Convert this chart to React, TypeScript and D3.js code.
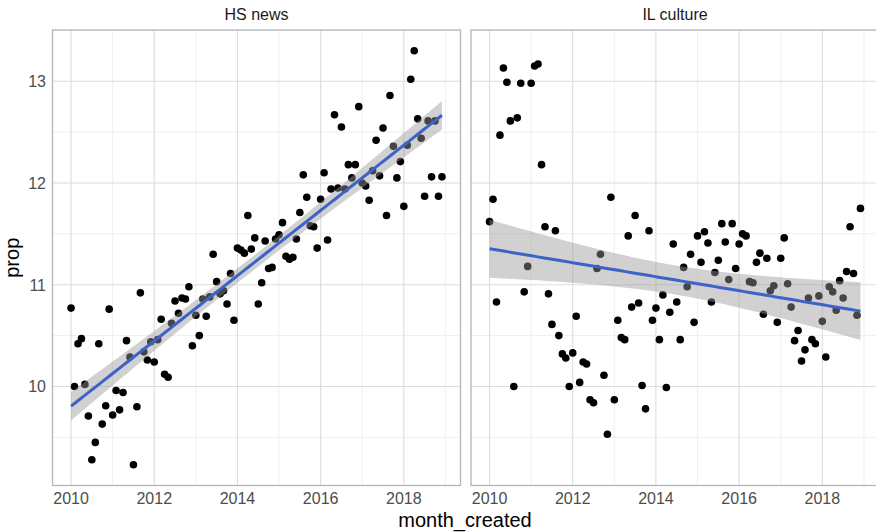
import * as d3 from 'd3'

// monthly series, Jan 2010 .. Dec 2018
const START_YEAR = 2010

const HS_NEWS = [
  10.77, 10.0, 10.42, 10.47, 10.02, 9.71, 9.28, 9.45, 10.42, 9.63, 9.81, 10.76,
  9.72, 9.96, 9.77, 9.94, 10.45, 10.29, 9.23, 9.8, 10.92, 10.34, 10.26, 10.44,
  10.24, 10.46, 10.66, 10.12, 10.09, 10.62, 10.84, 10.72, 10.87, 10.86, 10.98, 10.4,
  10.7, 10.5, 10.86, 10.69, 10.88, 11.3, 11.03, 10.91, 10.94, 10.81, 11.11, 10.65,
  11.36, 11.34, 11.31, 11.68, 11.35, 11.46, 10.81, 11.02, 11.43, 11.16, 11.17, 11.45,
  11.49, 11.61, 11.28, 11.25, 11.27, 11.45, 11.71, 12.08, 11.86, 11.58, 11.57, 11.36,
  11.84, 12.1, 11.44, 11.94, 12.67, 11.95, 12.55, 11.94, 12.18, 12.05, 12.18, 12.75,
  12.0, 11.97, 11.83, 12.12, 12.42, 12.07, 12.54, 11.68, 12.86, 12.36, 12.05, 12.21,
  11.77, 12.37, 13.02, 13.3, 12.63, 12.44, 11.87, 12.61, 12.06, 12.61, 11.87, 12.06,
]

const IL_CULTURE = [
  11.62, 11.84, 10.83, 12.47, 13.13, 12.99, 12.61, 10.0, 12.64, 12.98, 10.93, 11.18,
  12.98, 13.15, 13.17, 12.18, 11.57, 10.91, 10.61, 11.53, 10.5, 10.32, 10.28, 10.0,
  10.33, 10.69, 10.04, 10.24, 10.22, 9.87, 9.84, 11.16, 11.3, 10.11, 9.53, 11.86,
  9.87, 10.65, 10.48, 10.46, 11.48, 10.78, 11.68, 10.82, 10.01, 9.78, 11.53, 10.65,
  10.77, 10.46, 10.9, 9.99, 10.73, 11.4, 10.83, 10.46, 11.17, 10.98, 11.3, 10.63,
  11.48, 11.22, 11.52, 11.41, 10.83, 11.12, 11.24, 11.6, 11.42, 11.05, 11.6, 11.16,
  11.4, 11.5, 11.48, 11.03, 11.02, 11.22, 11.31, 10.71, 11.26, 10.94, 10.99, 10.63,
  11.26, 11.46, 11.01, 10.78, 10.45, 10.55, 10.25, 10.36, 10.87, 10.46, 10.42, 10.89,
  10.64, 10.29, 10.98, 10.93, 10.75, 11.04, 10.87, 11.13, 11.57, 11.11, 10.7, 11.75,
]

const PANEL_TITLES = ['HS news', 'IL culture']
const X_TICKS = [2010, 2012, 2014, 2016, 2018]
const X_MINOR = [2011, 2013, 2015, 2017, 2019]
const Y_TICKS = [10, 11, 12, 13]
const Y_MINOR = [9.5, 10.5, 11.5, 12.5, 13.5]

const W = 876
const H = 532
const PANEL_TOP = 30
const PANEL_BOTTOM = 485.5
const PANEL_LEFTS = [52.5, 471]
const PANEL_W = 408
const FONT = '"Liberation Sans", Arial, Helvetica, sans-serif'

const T_975 = 1.9826 // t quantile, df = 106

function expand(lo: number, hi: number) {
  const pad = (hi - lo) * 0.05
  return [lo - pad, hi + pad]
}

function fitLm(xs: number[], ys: number[]) {
  const n = xs.length
  const mx = d3.mean(xs)!
  const my = d3.mean(ys)!
  let sxx = 0
  let sxy = 0
  xs.forEach((x, i) => {
    sxx += (x - mx) ** 2
    sxy += (x - mx) * (ys[i] - my)
  })
  const b = sxy / sxx
  const a = my - b * mx
  const rss = d3.sum(xs, (x, i) => (ys[i] - a - b * x) ** 2)
  const s = Math.sqrt(rss / (n - 2))
  const [x0, x1] = d3.extent(xs) as [number, number]
  return d3.range(80).map(k => {
    const x = x0 + ((x1 - x0) * k) / 79
    const y = a + b * x
    const se = s * Math.sqrt(1 / n + (x - mx) ** 2 / sxx)
    return { x, y, lo: y - T_975 * se, hi: y + T_975 * se }
  })
}

function Panel({ index, values, yScale }: { index: number; values: number[]; yScale: d3.ScaleLinear<number, number> }) {
  const left = PANEL_LEFTS[index]
  const xs = values.map((_, i) => START_YEAR + i / 12)
  const xScale = d3.scaleLinear()
    .domain(expand(d3.min(xs)!, d3.max(xs)!))
    .range([left, left + PANEL_W])

  const fit = fitLm(xs, values)
  const area = d3.area<{ x: number; lo: number; hi: number }>()
    .x(d => xScale(d.x)).y0(d => yScale(d.lo)).y1(d => yScale(d.hi))
  const line = d3.line<{ x: number; y: number }>()
    .x(d => xScale(d.x)).y(d => yScale(d.y))

  const clipId = `clip-${index}`

  return (
    <g>
      <clipPath id={clipId}>
        <rect x={left} y={PANEL_TOP} width={PANEL_W} height={PANEL_BOTTOM - PANEL_TOP} />
      </clipPath>
      <g clipPath={`url(#${clipId})`}>
        {X_MINOR.map(t => (
          <line key={'xm' + t} x1={xScale(t)} x2={xScale(t)} y1={PANEL_TOP} y2={PANEL_BOTTOM}
            stroke="#ebebeb" strokeWidth={0.8} />
        ))}
        {Y_MINOR.map(t => (
          <line key={'ym' + t} x1={left} x2={left + PANEL_W} y1={yScale(t)} y2={yScale(t)}
            stroke="#ebebeb" strokeWidth={0.8} />
        ))}
        {X_TICKS.map(t => (
          <line key={'x' + t} x1={xScale(t)} x2={xScale(t)} y1={PANEL_TOP} y2={PANEL_BOTTOM}
            stroke="#dcdcdc" strokeWidth={1.1} />
        ))}
        {Y_TICKS.map(t => (
          <line key={'y' + t} x1={left} x2={left + PANEL_W} y1={yScale(t)} y2={yScale(t)}
            stroke="#dcdcdc" strokeWidth={1.1} />
        ))}
        {values.map((v, i) => (
          <circle key={i} cx={xScale(xs[i])} cy={yScale(v)} r={3.8} fill="#000" />
        ))}
        <path d={area(fit) ?? ''} fill="#999999" fillOpacity={0.45} />
        <path d={line(fit) ?? ''} fill="none" stroke="#3d62c8" strokeWidth={3} />
      </g>
      <rect x={left} y={PANEL_TOP} width={PANEL_W} height={PANEL_BOTTOM - PANEL_TOP}
        fill="none" stroke="#b4b5ba" strokeWidth={1.3} />

      <text x={left + PANEL_W / 2} y={20} textAnchor="middle" fontSize={16} fill="#1a1a1a">
        {PANEL_TITLES[index]}
      </text>

      {X_TICKS.map(t => (
        <text key={'xl' + t} x={xScale(t)} y={503.5} textAnchor="middle" fontSize={16} fill="#4d4d4d">
          {t}
        </text>
      ))}
    </g>
  )
}

export default function App() {
  const all = HS_NEWS.concat(IL_CULTURE)
  const yScale = d3.scaleLinear()
    .domain(expand(d3.min(all)!, d3.max(all)!))
    .range([PANEL_BOTTOM, PANEL_TOP])

  return (
    <svg width={W} height={H} style={{ position: 'absolute', left: 0, top: 0, background: '#fff' }}
      fontFamily={FONT}>
      <rect width={W} height={H} fill="#fff" />
      <Panel index={0} values={HS_NEWS} yScale={yScale} />
      <Panel index={1} values={IL_CULTURE} yScale={yScale} />

      {Y_TICKS.map(t => (
        <text key={t} x={46} y={yScale(t) + 5.8} textAnchor="end" fontSize={16} fill="#4d4d4d">
          {t}
        </text>
      ))}

      <text x={465} y={527} textAnchor="middle" fontSize={20} fill="#000">month_created</text>
      <text transform={`translate(19,${(PANEL_TOP + PANEL_BOTTOM) / 2}) rotate(-90)`}
        textAnchor="middle" fontSize={20} fill="#000">prop</text>
    </svg>
  )
}
